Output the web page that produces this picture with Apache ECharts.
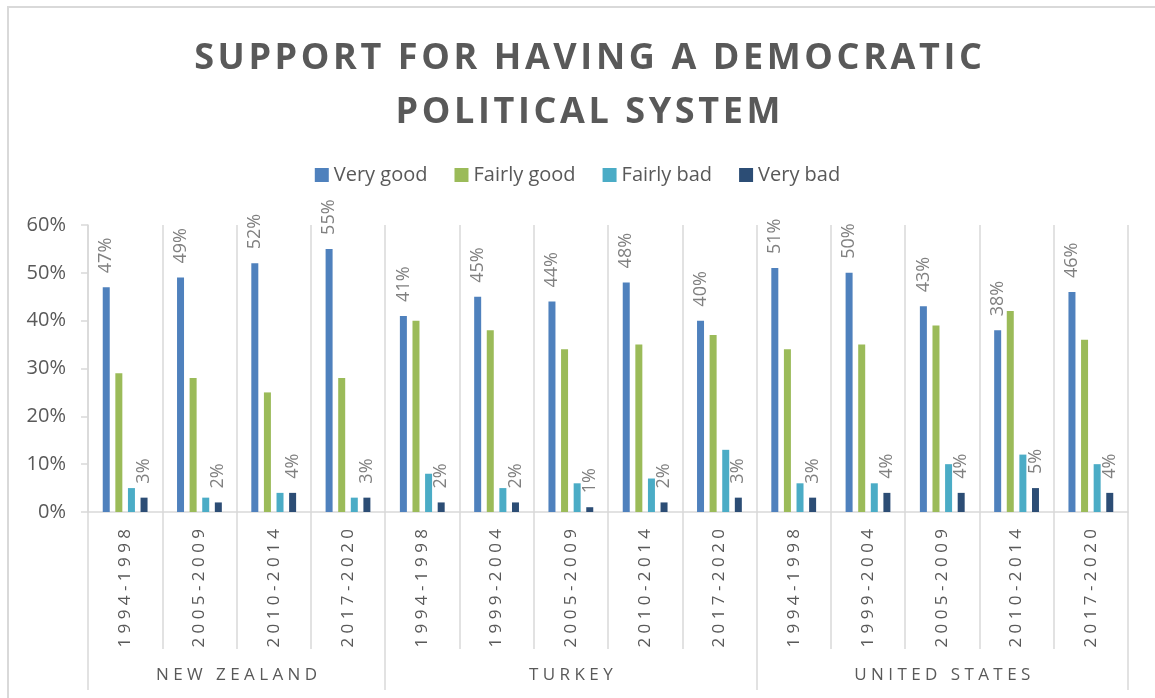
<!DOCTYPE html>
<html lang="en">
<head>
    <meta charset="UTF-8">
    <title>Support for having a democratic political system</title>
    <script src="https://cdn.jsdelivr.net/npm/echarts@6/dist/echarts.min.js"></script>
    <style>
        body { margin: 0; background: #fff; }
    </style>
</head>
<body>
<div id="echart" style="width:1155px;height:698px"></div>
<script>
    var periods = ['1994-1998', '2005-2009', '2010-2014', '2017-2020',
        '1994-1998', '1999-2004', '2005-2009', '2010-2014', '2017-2020',
        '1994-1998', '1999-2004', '2005-2009', '2010-2014', '2017-2020']
    var countries = ['NEW ZEALAND', 'TURKEY', 'UNITED STATES']
    var countrySizes = [4, 5, 5]
    var seriesNames = ['Very good', 'Fairly good', 'Fairly bad', 'Very bad']

    var veryGood   = [47, 49, 52, 55, 41, 45, 44, 48, 40, 51, 50, 43, 38, 46]
    var fairlyGood = [29, 28, 25, 28, 40, 38, 34, 35, 37, 34, 35, 39, 42, 36]
    var fairlyBad  = [5, 3, 4, 3, 8, 5, 6, 7, 13, 6, 6, 10, 12, 10]
    var veryBad    = [3, 2, 4, 3, 2, 2, 1, 2, 3, 3, 4, 4, 5, 4]

    var colors = ['#4f81bd', '#9bbb59', '#4bacc6', '#2c4d75']
    var gridColor = '#d9d9d9'
    var textColor = '#595959'
    var font = '"Open Sans", sans-serif'

    // spread letters a bit, like the excel text spacing
    function spaced(s, sep) {
        return s.split('').join(sep)
    }

    // country boundaries and centres on a 0..14 value axis
    var bounds = [0], centres = [], labelAt = {}
    for (var i = 0; i < countrySizes.length; i++) {
        var start = bounds[bounds.length - 1]
        bounds.push(start + countrySizes[i])
        centres.push(start + countrySizes[i] / 2)
        labelAt[start + countrySizes[i] / 2] = countries[i]
    }

    function barSeries(idx, data, showLabel) {
        return {
            name: seriesNames[idx],
            type: 'bar',
            data: data,
            barWidth: 7,
            barGap: '80%',
            itemStyle: { color: colors[idx] },
            label: {
                show: showLabel,
                position: 'top',
                rotate: 90,
                align: 'left',
                verticalAlign: 'middle',
                distance: 14,
                color: '#808080',
                fontFamily: font,
                fontSize: 18,
                formatter: '{c}%'
            }
        }
    }

    var myChart = echarts.init(document.getElementById('echart'))
    myChart.setOption({
        animation: false,
        color: colors,
        title: {
            text: spaced('SUPPORT FOR HAVING A DEMOCRATIC', '\u200A') + '\n' + spaced('POLITICAL SYSTEM', '\u200A'),
            left: 583,
            top: 27,
            textAlign: 'center',
            textStyle: {
                color: textColor,
                fontFamily: font,
                fontWeight: 'bold',
                fontSize: 36,
                lineHeight: 54
            }
        },
        legend: {
            top: 160,
            left: 'center',
            itemWidth: 14,
            itemHeight: 14,
            itemGap: 27,
            icon: 'rect',
            data: seriesNames,
            textStyle: { color: textColor, fontFamily: font, fontSize: 20 }
        },
        graphic: [{
            type: 'rect',
            shape: { x: 8, y: 7, width: 1200, height: 800 },
            style: { fill: 'none', stroke: gridColor, lineWidth: 2 },
            silent: true
        }],
        grid: { left: 88, right: 27, top: 225, bottom: 186 },
        xAxis: [{
            type: 'category',
            data: periods,
            position: 'bottom',
            axisLine: { show: true, lineStyle: { color: gridColor, width: 1.5 } },
            axisTick: { show: true, interval: 0, length: 137, lineStyle: { color: gridColor, width: 1.5 } },
            splitLine: { show: true, interval: 0, lineStyle: { color: gridColor, width: 1.5 } },
            axisLabel: {
                interval: 0,
                rotate: 90,
                margin: 17,
                color: textColor,
                fontFamily: font,
                fontSize: 17,
                formatter: function (v) { return spaced(v, ' ') }
            }
        }, {
            type: 'value',
            min: 0,
            max: periods.length,
            position: 'bottom',
            axisLine: { show: false },
            splitLine: { show: false },
            axisTick: { show: true, customValues: bounds, length: 178, lineStyle: { color: gridColor, width: 1.5 } },
            axisLabel: {
                customValues: centres,
                margin: 155,
                color: textColor,
                fontFamily: font,
                fontSize: 17,
                formatter: function (v) { return spaced(labelAt[v] || '', ' ') }
            }
        }],
        yAxis: {
            type: 'value',
            min: 0,
            max: 60,
            interval: 10,
            axisLine: { show: true, lineStyle: { color: gridColor, width: 1.5 } },
            axisTick: { show: true, length: 7, lineStyle: { color: gridColor, width: 1.5 } },
            splitLine: { show: false },
            axisLabel: {
                margin: 22,
                color: textColor,
                fontFamily: font,
                fontSize: 20,
                formatter: '{value}%'
            }
        },
        series: [
            barSeries(0, veryGood, true),
            barSeries(1, fairlyGood, false),
            barSeries(2, fairlyBad, false),
            barSeries(3, veryBad, true)
        ]
    })
</script>
</body>
</html>
